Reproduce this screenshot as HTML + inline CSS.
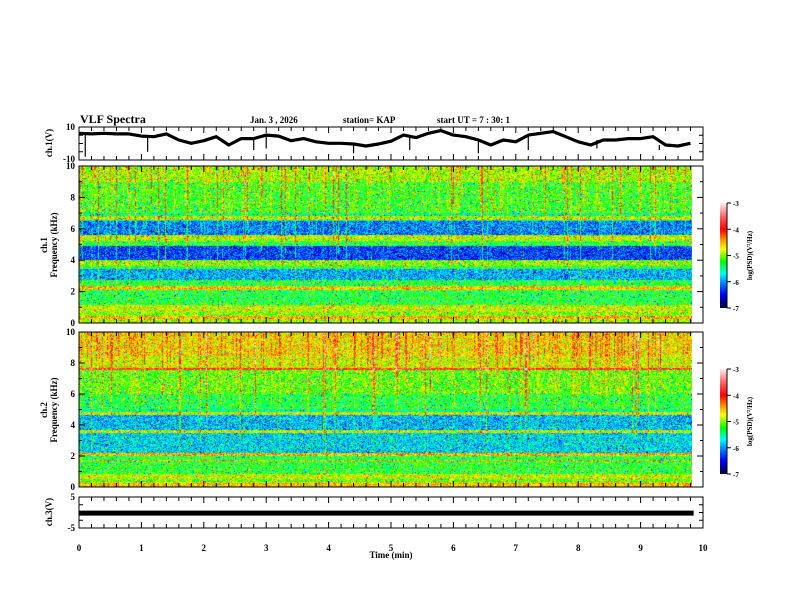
<!DOCTYPE html>
<html><head><meta charset="utf-8"><style>
html,body{margin:0;padding:0;background:#fff;}
#wrap{position:relative;width:792px;height:612px;overflow:hidden;font-family:"Liberation Serif",serif;}
canvas{position:absolute;}
svg{position:absolute;left:0;top:0;}
</style></head><body>
<div id="wrap">
<canvas id="s1" width="613" height="157" style="left:79px;top:166px"></canvas>
<canvas id="s2" width="613" height="155" style="left:79px;top:332px"></canvas>
<canvas id="cb1" width="7" height="105" style="left:720px;top:203px"></canvas>
<canvas id="cb2" width="7" height="105" style="left:720px;top:369px"></canvas>
<svg id="g" width="792" height="612"></svg>
</div>
<script>
// ---- data ----
const ch1Times = [0,0.2,0.4,0.6,0.8,1.0,1.2,1.4,1.6,1.8,2.0,2.2,2.4,2.6,2.8,3.0,3.2,3.4,3.6,3.8,4.0,4.2,4.4,4.6,4.8,5.0,5.2,5.4,5.6,5.8,6.0,6.2,6.4,6.6,6.8,7.0,7.2,7.4,7.6,7.8,8.0,8.2,8.4,8.6,8.8,9.0,9.2,9.4,9.6,9.8];
const ch1Values = [6.2,5.8,6.2,5.8,5.8,4.5,4.1,5.8,2.1,0.1,1.7,4.1,-0.9,3.0,3.0,5.1,4.5,1.7,3.0,1.0,0.1,0.1,-0.3,-1.5,-0.3,1.4,5.1,3.6,6.2,7.8,5.1,4.1,2.1,-0.9,2.1,1.0,5.1,6.2,7.2,4.1,1.0,-0.9,2.1,2.1,3.0,3.0,4.1,-0.9,-1.5,0.1];
const ch1SpikeTimes = [0.1,1.1,2.8,3.0,4.4,5.3,6.4,7.2,8.3,9.3];
const ch1SpikeLows = [-8,-5,-4,-3,-6,-4,-6,-4,-3,-4];
const ch3Level = [-0.2];
const ch1BandTops = [10,9,7,6.8,6.6,6.5,5.6,5.2,4.9,4.0,3.6,3.4,2.7,2.35,2.1,1.1,0.7,0.4,0.2];
const ch1BandLevels = [-4.95,-5.2,-5.5,-4.9,-5.6,-6.1,-4.85,-5.3,-6.3,-5.0,-5.3,-5.95,-5.3,-4.6,-5.3,-4.8,-5.0,-4.5,-4.9];
const ch2BandTops = [10,8.5,7.7,7.55,6,5,4.85,4.65,3.65,3.45,2.2,2.0,1.75,1.65,0.8,0.5,0.3];
const ch2BandLevels = [-4.65,-4.8,-4.1,-5.1,-5.3,-5.5,-4.8,-5.9,-4.8,-5.8,-4.5,-5.3,-4.5,-5.25,-4.8,-5.1,-4.6];
const xTicks = [0,1,2,3,4,5,6,7,8,9,10];
const fTicks = [0,2,4,6,8,10];
const cbTicks = [-3,-4,-5,-6,-7];

// ---- scales ----
const X0=79,X1=703, xs=t=>X0+(X1-X0)*t/10;
const P1={top:127,bot:160}, S1={top:166,bot:323}, S2={top:332,bot:487}, P3={top:497,bot:528};
const y1=v=>P1.top+(10-v)/20*(P1.bot-P1.top);
const y3=v=>P3.top+(5-v)/10*(P3.bot-P3.top);

const stops=[[-7,[0,0,50]],[-6.5,[0,0,255]],[-6.0,[0,150,255]],[-5.7,[0,255,255]],[-5.25,[0,255,0]],[-4.75,[255,255,0]],[-4.4,[255,150,0]],[-4.0,[255,0,0]],[-3.5,[255,100,100]],[-3,[255,235,235]]];
function cmap(v){if(v<=-7)return stops[0][1];if(v>=-3)return stops[stops.length-1][1];
 for(let i=0;i<stops.length-1;i++){const a=stops[i],b=stops[i+1];if(v>=a[0]&&v<=b[0]){const f=(v-a[0])/(b[0]-a[0]);return a[1].map((c,k)=>Math.round(c+(b[1][k]-c)*f));}}}
function hash(a,b){let h=(a*374761393+b*668265263)^0x5bd1e995;h=(h^(h>>>13))*1274126177;h=h^(h>>>16);return ((h>>>0)%10000)/10000;}
function profile(tops,levels,f){let lv=levels[0];for(let i=0;i<tops.length;i++){if(f<=tops[i])lv=levels[i];}return lv;}
function drawSpec(id,tops,levels,seed,hot){
 const c=document.getElementById(id),ctx=c.getContext('2d'),W=c.width,H=c.height,img=ctx.createImageData(W,H);
 const colAct=[];for(let x=0;x<W;x++){const r=hash(x,seed);colAct.push(r>0.93?(hash(x,seed+7)*0.8+0.5):(r>0.75?0.3:0));}
 const colLen=[];for(let x=0;x<W;x++)colLen.push(1+hash(x,seed+3)*8);
 for(let y=0;y<H;y++){const f=10*(1-y/(H-1));const base=profile(tops,levels,f);
  for(let x=0;x<W;x++){const n=hash(x*3+seed,y);let v=base+(n-0.5)*0.9+(n>0.97?0.5:0)-(n<0.03?0.5:0);
   if(f>1.1&&f>10-colLen[x])v+=colAct[x]*(0.3+f/12)*hot*(0.6+0.8*hash(x,y+seed));
   const col=cmap(v),p=(y*W+x)*4;img.data[p]=col[0];img.data[p+1]=col[1];img.data[p+2]=col[2];img.data[p+3]=255;}}
 ctx.putImageData(img,0,0);}
drawSpec('s1',ch1BandTops,ch1BandLevels,11,1.0);
drawSpec('s2',ch2BandTops,ch2BandLevels,29,1.1);
['cb1','cb2'].forEach(id=>{const c=document.getElementById(id),ctx=c.getContext('2d');for(let y=0;y<c.height;y++){const col=cmap(-3-4*y/(c.height-1));ctx.fillStyle=`rgb(${col})`;ctx.fillRect(0,y,c.width,1);}});

// ---- svg ----
const NS='http://www.w3.org/2000/svg',g=document.getElementById('g');
function el(tag,attrs,parent){const e=document.createElementNS(NS,tag);for(const k in attrs)e.setAttribute(k,attrs[k]);(parent||g).appendChild(e);return e;}
function txt(x,y,s,size,anchor,rot,name){const e=el('text',{x:x,y:y,'font-size':size,'font-weight':'bold','text-anchor':anchor||'start','font-family':'Liberation Serif, serif'});if(rot)e.setAttribute('transform',`rotate(-90 ${x} ${y})`);e.textContent=s;
 
 
 return e;}
txt(80,123,'VLF Spectra',12,'start',0,'chart-title');
txt(250,123,'Jan. 3 , 2026',9,'start',0,'date-label');
txt(343,123,'station= KAP',9,'start',0,'station-label');
txt(437,123,'start UT =  7 : 30: 1',9,'start',0,'start-time-label');

function box(p,name){const r=el('rect',{x:X0,y:p.top,width:X1-X0,height:p.bot-p.top,fill:'none',stroke:'#000','stroke-width':1});
 
 }
box(P1,'ch1-panel-frame');box(S1,'ch1-spectrogram-frame');box(S2,'ch2-spectrogram-frame');box(P3,'ch3-panel-frame');

[P1,S1,S2,P3].forEach(p=>{for(let i=0;i<=50;i++){const t=i*0.2,x=xs(t),L=(i%5==0)?6:4;
 el('line',{x1:x,x2:x,y1:p.bot,y2:p.bot-L,stroke:'#000','stroke-width':1});
 el('line',{x1:x,x2:x,y1:p.top,y2:p.top+L,stroke:'#000','stroke-width':1});}});
xTicks.forEach(t=>txt(xs(t),551,String(t),9,'middle',0,'x-tick-label'));
txt(391,558,'Time  (min)',9,'middle',0,'x-axis-title');

[[S1,'ch1'],[S2,'ch2']].forEach(([p,n])=>{const fy=f=>p.bot-(p.bot-p.top)*f/10;
 for(let f=0;f<=10;f++){const L=f%2==0?6:3;el('line',{x1:X0,x2:X0+L,y1:fy(f),y2:fy(f),stroke:'#000'});el('line',{x1:X1,x2:X1-L,y1:fy(f),y2:fy(f),stroke:'#000'});}
 fTicks.forEach(f=>txt(75,fy(f)+3,String(f),9,'end',0,n+'-freq-tick'));});
txt(75,130,'10',9,'end',0,'ch1-ytick-top');txt(75,162,'-10',9,'end',0,'ch1-ytick-bottom');
txt(75,500,'5',9,'end',0,'ch3-ytick-top');txt(75,531,'-5',9,'end',0,'ch3-ytick-bottom');
[P1,P3].forEach(p=>{const m=(p.top+p.bot)/2;[p.top+(m-p.top)/2,m,m+(p.bot-m)/2].forEach(y=>{el('line',{x1:X0,x2:X0+4,y1:y,y2:y,stroke:'#000'});el('line',{x1:X1,x2:X1-4,y1:y,y2:y,stroke:'#000'});});});

txt(52,143,'ch.1(V)',9,'middle',1,'ch1-y-title');
txt(47,245,'ch.1',9,'middle',1,'ch1-spec-title');
txt(57,245,'Frequency  (kHz)',9,'middle',1,'ch1-freq-title');
txt(47,410,'ch.2',9,'middle',1,'ch2-spec-title');
txt(57,410,'Frequency  (kHz)',9,'middle',1,'ch2-freq-title');
txt(52,512,'ch.3(V)',9,'middle',1,'ch3-y-title');

let d='';ch1Times.forEach((t,i)=>{d+=(i?'L':'M')+xs(t).toFixed(1)+' '+y1(ch1Values[i]).toFixed(1);});
const tr=el('path',{d:d,fill:'none',stroke:'#000','stroke-width':3.2,'stroke-linejoin':'round'});


ch1SpikeTimes.forEach((t,i)=>{let k=Math.min(ch1Times.length-1,Math.round(t/0.2));const s=el('line',{x1:xs(t),x2:xs(t),y1:y1(ch1Values[k]),y2:y1(ch1SpikeLows[i]),stroke:'#000','stroke-width':1.2});
 
 });
const b3=el('rect',{x:X0,y:y3(ch3Level[0])-2.5,width:xs(9.85)-X0,height:5,fill:'#000'});



[203,369].forEach((top,j)=>{const h=105;el('line',{x1:727,x2:727,y1:top,y2:top+h,stroke:'#000'});
 cbTicks.forEach((v,i)=>{const y=top+h*i/4;el('line',{x1:727,x2:731,y1:y,y2:y,stroke:'#000'});txt(733,y+3,String(v),7,'start',0,'colorbar'+(j+1)+'-tick');});
 txt(752,top+h/2,'log(PSD)(V\u00b2/Hz)',7,'middle',1,'colorbar'+(j+1)+'-label');});
</script>
</body></html>
